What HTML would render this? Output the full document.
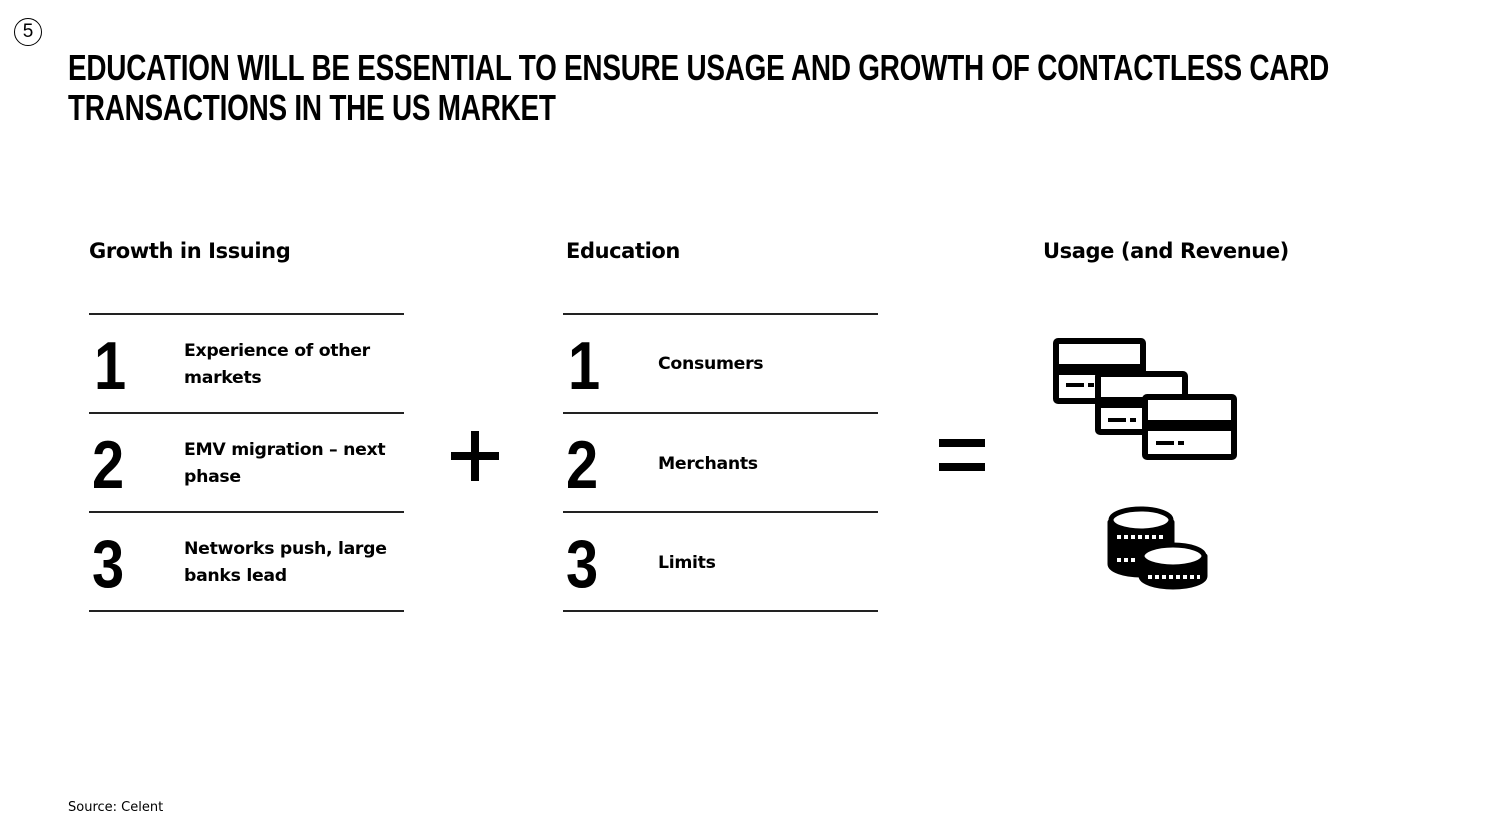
<!DOCTYPE html>
<html><head><style>
body{margin:0;width:1494px;height:840px;background:#fff;position:relative;overflow:hidden;font-family:"Liberation Sans",sans-serif;color:#000}
.a{position:absolute;white-space:nowrap}
.t{font-weight:bold;font-size:36px;transform:scaleX(0.775);transform-origin:0 0;line-height:40px;letter-spacing:-0.3px}
.h{font-family:"DejaVu Sans","Liberation Sans",sans-serif;font-weight:bold;font-size:21px;letter-spacing:-0.4px}
.n{font-weight:bold;font-size:68px;transform:scaleX(0.85);transform-origin:0 0;line-height:68px}
.i{font-family:"DejaVu Sans","Liberation Sans",sans-serif;font-weight:bold;font-size:17.3px;line-height:27px;letter-spacing:-0.3px}
.l{position:absolute;height:2px;background:#222;width:315px}
</style></head><body>
<div class="a" style="left:14px;top:18px;width:26px;height:26px;border:1.5px solid #000;border-radius:50%;text-align:center;font-size:19px;line-height:26px">5</div>
<div class="a t" style="left:68px;top:48px">EDUCATION WILL BE ESSENTIAL TO ENSURE USAGE AND GROWTH OF CONTACTLESS CARD<br>TRANSACTIONS IN THE US MARKET</div>

<div class="a h" style="left:89px;top:239px">Growth in Issuing</div>
<div class="a h" style="left:566px;top:239px">Education</div>
<div class="a h" style="left:1043px;top:239px">Usage (and Revenue)</div>

<div class="l" style="left:89px;top:313px"></div><div class="l" style="left:89px;top:412px"></div><div class="l" style="left:89px;top:511px"></div><div class="l" style="left:89px;top:610px"></div>
<div class="l" style="left:563px;top:313px"></div><div class="l" style="left:563px;top:412px"></div><div class="l" style="left:563px;top:511px"></div><div class="l" style="left:563px;top:610px"></div>

<div class="a n" style="left:94px;top:332px">1</div>
<div class="a n" style="left:92px;top:431px">2</div>
<div class="a n" style="left:92px;top:530px">3</div>
<div class="a n" style="left:568px;top:332px">1</div>
<div class="a n" style="left:566px;top:431px">2</div>
<div class="a n" style="left:566px;top:530px">3</div>

<div class="a i" style="left:184px;top:338px">Experience of other<br>markets</div>
<div class="a i" style="left:184px;top:437px">EMV migration – next<br>phase</div>
<div class="a i" style="left:184px;top:536px">Networks push, large<br>banks lead</div>
<div class="a i" style="left:658px;top:351px">Consumers</div>
<div class="a i" style="left:658px;top:451px">Merchants</div>
<div class="a i" style="left:658px;top:550px">Limits</div>

<div class="a" style="left:451px;top:452px;width:48px;height:8px;background:#000"></div>
<div class="a" style="left:471px;top:431px;width:8px;height:50px;background:#000"></div>
<div class="a" style="left:939px;top:439px;width:46px;height:8px;background:#000"></div>
<div class="a" style="left:939px;top:463px;width:46px;height:8px;background:#000"></div>

<svg class="a" style="left:0;top:0" width="1494" height="840">
<g stroke="#000" stroke-width="6" fill="#fff">
<rect x="1056" y="341" width="87" height="60" rx="2"/>
<rect x="1056" y="364" width="87" height="11" fill="#000" stroke="none"/>
<rect x="1098" y="374" width="87" height="58" rx="2"/>
<rect x="1098" y="397" width="87" height="11" fill="#000" stroke="none"/>
<rect x="1145" y="397" width="89" height="60" rx="2"/>
<rect x="1145" y="420" width="89" height="11" fill="#000" stroke="none"/>
</g>
<g fill="#000"><rect x="1066" y="383" width="18" height="4"/><rect x="1088" y="383" width="6" height="4"/>
<rect x="1108" y="418" width="18" height="4"/><rect x="1130" y="418" width="6" height="4"/>
<rect x="1156" y="441" width="18" height="4"/><rect x="1178" y="441" width="6" height="4"/></g>
<g stroke="#000" stroke-width="5" stroke-linejoin="round">
<path d="M1110 522 v42 a31 11 0 0 0 62 0 v-42 z" fill="#000"/>
<ellipse cx="1141" cy="520" rx="30" ry="11" fill="#fff"/>
<path d="M1141 556 v20 a32 11 0 0 0 64 0 v-20 z" fill="#000"/>
<ellipse cx="1173" cy="556" rx="31" ry="11" fill="#fff"/>
</g>
<g stroke="#fff" stroke-width="4" stroke-dasharray="4 3"><line x1="1117" y1="537" x2="1165" y2="537"/><line x1="1117" y1="560" x2="1138" y2="560"/><line x1="1148" y1="577" x2="1200" y2="577"/></g>
</svg>

<div class="a" style="left:68px;top:800px;font-family:'DejaVu Sans','Liberation Sans',sans-serif;font-size:13px">Source: Celent</div>
</body></html>
